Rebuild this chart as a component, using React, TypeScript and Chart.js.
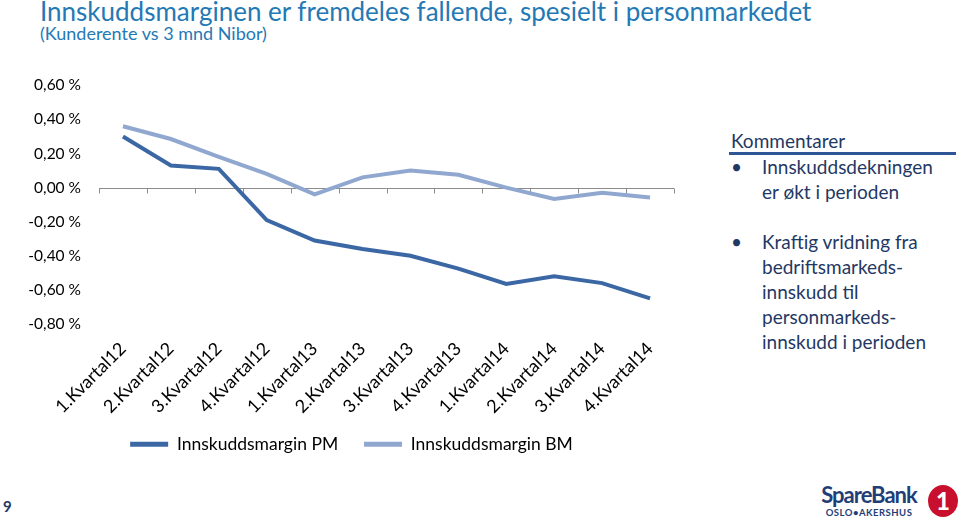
import React, { useEffect, useRef } from "react";
import { Chart, registerables } from "chart.js";

Chart.register(...registerables);

const categories = [
  "1.Kvartal12", "2.Kvartal12", "3.Kvartal12", "4.Kvartal12",
  "1.Kvartal13", "2.Kvartal13", "3.Kvartal13", "4.Kvartal13",
  "1.Kvartal14", "2.Kvartal14", "3.Kvartal14", "4.Kvartal14",
];
const marginPM = [0.30, 0.13, 0.11, -0.19, -0.31, -0.36, -0.40, -0.475, -0.565, -0.52, -0.56, -0.65];
const marginBM = [0.36, 0.285, 0.18, 0.08, -0.04, 0.06, 0.10, 0.075, 0.0, -0.066, -0.03, -0.058];
const seriesNames = ["Innskuddsmargin PM", "Innskuddsmargin BM"];
const yMin = -0.8;
const yMax = 0.6;
const yStep = 0.2;

const FONT = "Lato, 'Open Sans', sans-serif";

const zeroAxisPlugin = {
  id: "zeroAxis",
  beforeDatasetsDraw(chart: any) {
    const { ctx, chartArea, scales } = chart;
    const y = Math.round(scales.y.getPixelForValue(0)) + 0.5;
    const n = categories.length;
    const w = (chartArea.right - chartArea.left) / n;
    ctx.save();
    ctx.strokeStyle = "#8c8c8c";
    ctx.lineWidth = 1;
    ctx.beginPath();
    ctx.moveTo(chartArea.left, y);
    ctx.lineTo(chartArea.right, y);
    for (let i = 0; i <= n; i++) {
      const x = Math.round(chartArea.left + i * w) + 0.5;
      ctx.moveTo(x, y);
      ctx.lineTo(x, y + 5);
    }
    ctx.stroke();
    ctx.restore();
  },
};

function fmt(v: number) {
  const r = Math.abs(v) < 1e-9 ? 0 : v;
  return r.toFixed(2).replace(".", ",") + " %";
}

const CW = 700;
const CH = 405;

export default function App() {
  const ref = useRef<HTMLCanvasElement | null>(null);
  useEffect(() => {
    if (!ref.current) return;
    const defaultLabels = (Chart.defaults as any).plugins.legend.labels.generateLabels;
    const chart = new Chart(ref.current, {
      type: "line",
      data: {
        labels: categories,
        datasets: [
          {
            label: seriesNames[0],
            data: marginPM,
            borderColor: "#3C67A5",
            backgroundColor: "#3C67A5",
            borderWidth: 4,
            pointRadius: 0,
            tension: 0,
          },
          {
            label: seriesNames[1],
            data: marginBM,
            borderColor: "#90A8CF",
            backgroundColor: "#90A8CF",
            borderWidth: 4,
            pointRadius: 0,
            tension: 0,
          },
        ],
      },
      options: {
        animation: false,
        responsive: false,
        maintainAspectRatio: false,
        layout: { padding: { left: 29, right: 26, top: 0, bottom: 0 } },
        plugins: {
          legend: {
            position: "bottom",
            labels: {
              boxWidth: 38,
              boxHeight: 5,
              color: "#000",
              font: { family: FONT, size: 17.5 },
              padding: 4,
              generateLabels: (c: any) =>
                defaultLabels(c).map((l: any, i: number) =>
                  i < c.data.datasets.length - 1 ? { ...l, lineWidth: 0, text: l.text + "\u2003\u2002" } : { ...l, lineWidth: 0 }
                ),
            },
          },
          tooltip: { enabled: false },
        },
        scales: {
          x: {
            offset: true,
            grid: { display: false, drawTicks: false },
            border: { display: false },
            ticks: {
              minRotation: 45,
              maxRotation: 45,
              padding: 14,
              color: "#000",
              font: { family: FONT, size: 18 },
            },
          },
          y: {
            min: yMin,
            max: yMax,
            grid: { display: false, drawTicks: false },
            border: { display: false },
            afterFit: (s: any) => { s.width = 70; },
            ticks: {
              stepSize: yStep,
              padding: 18,
              color: "#000",
              font: { family: FONT, size: 15.5 },
              callback: (v: any) => fmt(Number(v)),
            },
          },
        },
      },
      plugins: [zeroAxisPlugin],
    });
    return () => chart.destroy();
  }, []);

  const navy = "#1F3864";
  return (
    <div style={{ position: "fixed", left: 0, top: 0, width: 960, height: 520, background: "#fff", overflow: "hidden", fontFamily: FONT }}>
      <div style={{ position: "absolute", left: 40, top: -5, fontSize: 26, color: "#2479B5", whiteSpace: "nowrap" }}>
        Innskuddsmarginen er fremdeles fallende, spesielt i personmarkedet
      </div>
      <div style={{ position: "absolute", left: 40, top: 22, fontSize: 18, color: "#2479B5", whiteSpace: "nowrap" }}>
        (Kunderente vs 3 mnd Nibor)
      </div>
      <div style={{ position: "absolute", left: 0, top: 58, width: CW, height: CH }}>
        <canvas ref={ref} width={CW} height={CH} style={{ display: "block", width: CW, height: CH }} />
      </div>
      <div style={{ position: "absolute", left: 729, top: 130, width: 227, color: navy, fontSize: 19 }}>
        <div style={{ fontSize: 19, lineHeight: "22px", paddingLeft: 2, borderBottom: "3px solid #2E5597" }}>Kommentarer</div>
        <div style={{ position: "relative", paddingLeft: 33, lineHeight: "25px", marginTop: -1 }}>
          <span style={{ position: "absolute", left: 2 }}>•</span>
          Innskuddsdekningen<br />er økt i perioden
        </div>
        <div style={{ position: "relative", paddingLeft: 33, lineHeight: "25px", marginTop: 25 }}>
          <span style={{ position: "absolute", left: 2 }}>•</span>
          Kraftig vridning fra<br />bedriftsmarkeds-<br />innskudd til<br />personmarkeds-<br />innskudd i perioden
        </div>
      </div>
      <div style={{ position: "absolute", left: 3, top: 497, fontSize: 15, fontWeight: 700, color: navy }}>9</div>
      <div style={{ position: "absolute", left: 810, top: 484, width: 118, textAlign: "center", color: "#1F3E78", lineHeight: 1 }}>
        <div style={{ fontSize: 22, fontWeight: 700, letterSpacing: -1 }}>SpareBank</div>
        <div style={{ fontSize: 9.5, fontWeight: 700, letterSpacing: 0.5, marginTop: 2 }}>OSLO•AKERSHUS</div>
      </div>
      <div style={{ position: "absolute", left: 928, top: 485, width: 30, height: 32, borderRadius: "50%", background: "#C8102E", color: "#fff", fontWeight: 900, fontSize: 24, textAlign: "center", lineHeight: "32px" }}>1</div>
    </div>
  );
}
